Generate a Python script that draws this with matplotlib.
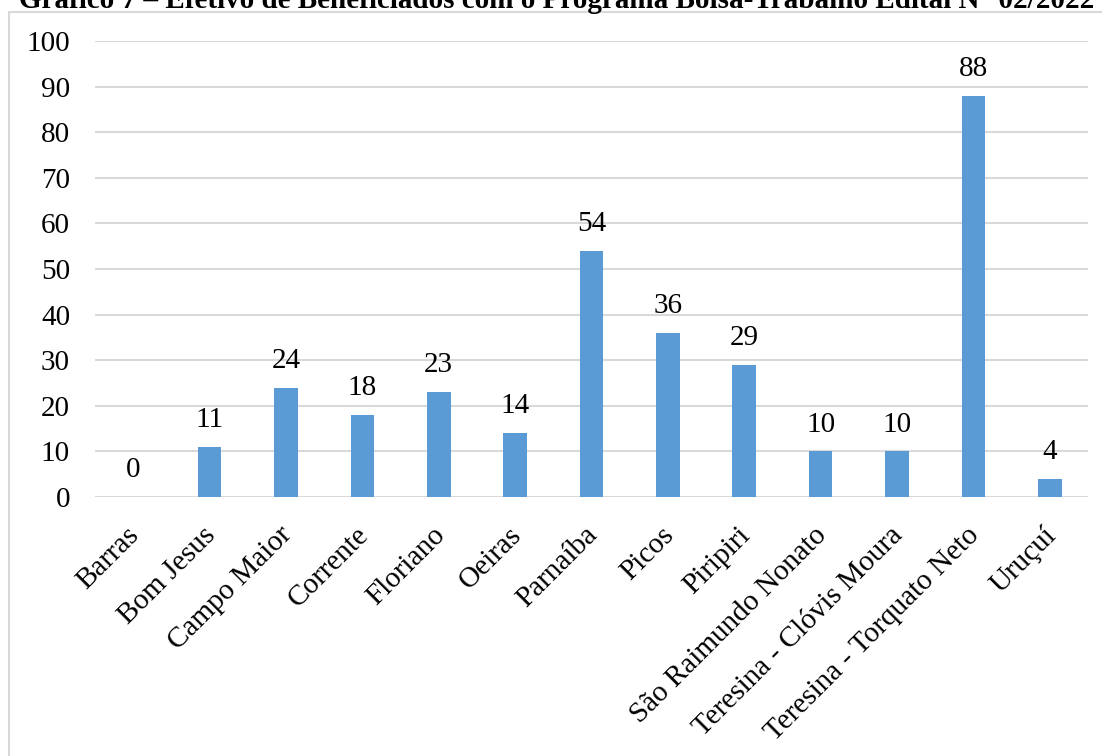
import matplotlib.pyplot as plt
from matplotlib.patches import Rectangle
from matplotlib.transforms import ScaledTranslation

campi = ["Barras", "Bom Jesus", "Campo Maior", "Corrente", "Floriano", "Oeiras",
         "Parnaíba", "Picos", "Piripiri", "São Raimundo Nonato",
         "Teresina - Clóvis Moura", "Teresina - Torquato Neto", "Uruçuí"]
beneficiados = [0, 11, 24, 18, 23, 14, 54, 36, 29, 10, 10, 88, 4]
y_ticks = [0, 10, 20, 30, 40, 50, 60, 70, 80, 90, 100]

titulo = "Gráfico 7 – Efetivo de Beneficiados com o Programa Bolsa-Trabalho Edital N° 02/2022"

plt.rcParams['font.family'] = ['Liberation Serif', 'DejaVu Serif']

W, H = 1102, 756
fig = plt.figure(figsize=(W / 100, H / 100), dpi=100)

# moldura do gráfico (cinza claro)
frame = Rectangle((9 / W, -0.1), 1.2, 1 - 12 / H + 0.1, transform=fig.transFigure,
                  fill=False, edgecolor='#D9D9D9', linewidth=1.5)
fig.patches.append(frame)

fig.text(557 / W, 1 - 8 / H, titulo, ha='center', va='baseline',
         fontsize=21, fontweight='bold')

ax = fig.add_axes([95 / W, 1 - 497 / H, (1088 - 95) / W, (497 - 41) / H])
x = range(len(campi))
ax.bar(x, beneficiados, width=0.31, color='#5B9BD5', zorder=3)

for xi, v in zip(x, beneficiados):
    ax.annotate(str(v), (xi, v), xytext=(0, 10), textcoords='offset points',
                ha='center', va='bottom', fontsize=21)

ax.set_xlim(-0.5, len(campi) - 0.5)
ax.set_ylim(0, 100)
ax.set_yticks(y_ticks)
ax.yaxis.grid(True, color='#D9D9D9', linewidth=1.5, zorder=0)
for s in ax.spines.values():
    s.set_visible(False)
ax.tick_params(axis='both', length=0, labelsize=21)
ax.tick_params(axis='y', pad=18)
ax.set_xticks(list(x))
ax.set_xticklabels(campi, rotation=45, ha='right', rotation_mode='anchor')
ax.tick_params(axis='x', pad=18)

# desloca os rótulos inclinados um pouco para a esquerda
shift = ScaledTranslation(-0.07, 0, fig.dpi_scale_trans)
for lbl in ax.get_xticklabels():
    lbl.set_transform(lbl.get_transform() + shift)

fig.savefig('out.png', dpi=100)
